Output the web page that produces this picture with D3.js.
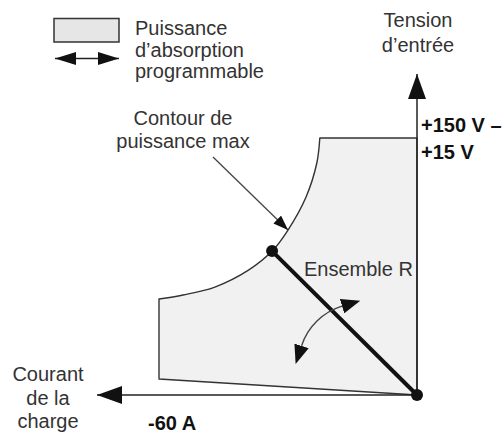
<!DOCTYPE html>
<html>
<head>
<meta charset="utf-8">
<script src="https://cdn.jsdelivr.net/npm/d3@7"></script>
<style>
  body { margin: 0; background: #fff; }
  text { font-family: "Liberation Sans", Arial, sans-serif; }
</style>
</head>
<body>
<div id="chart"></div>
<script>
// Data (current in A, voltage in V)
var topCurrent = 0, topVoltage = 150;
var contourCurrent = [-22.6, -23.3, -25.8, -30.0, -33.7, -39.1, -47.0, -54.4, -60];
var contourVoltage = [150, 135.4, 115.6, 96.3, 84.0, 73.0, 63.0, 58.4, 56.0];
var floorCurrent = [-60, 0];
var floorVoltage = [9.3, 0];
var setRCurrent = [-33.7, 0];
var setRVoltage = [84.0, 0];

var legendLines = ["Puissance", "d\u2019absorption", "programmable"];
var voltageAxisLines = ["Tension", "d\u2019entr\u00e9e"];
var currentAxisLines = ["Courant", "de la", "charge"];
var voltageTickLabels = ["+150 V \u2013", "+15 V"];
var currentTickLabels = ["-60 A"];
var contourLabelLines = ["Contour de", "puissance max"];
var setRLabel = "Ensemble R";

var width = 503, height = 434;

var svg = d3.select("#chart")
            .append("svg")
            .attr("width", width)
            .attr("height", height)
            .style("display", "block");

// Scales
var x = d3.scaleLinear().domain([-60, 0]).range([159, 417]);
var y = d3.scaleLinear().domain([0, 150]).range([395, 138]);

// Markers
var defs = svg.append("defs");
function marker(id, len, wid, refX) {
    defs.append("marker")
        .attr("id", id)
        .attr("markerUnits", "userSpaceOnUse")
        .attr("markerWidth", len)
        .attr("markerHeight", wid)
        .attr("viewBox", "0 0 " + len + " " + wid)
        .attr("refX", refX)
        .attr("refY", wid / 2)
        .attr("orient", "auto-start-reverse")
        .append("path")
        .attr("d", "M0,0L" + len + "," + (wid / 2) + "L0," + wid + "Z")
        .attr("fill", "#111");
}
marker("axisHead", 25, 18, 25);
marker("legendHead", 21, 13, 21);
marker("pointHead", 15, 11, 15);
marker("arcHead", 19, 15, 0);

// Region of programmable absorption power
var contourPts = contourCurrent.map(function(c, i) { return [x(c), y(contourVoltage[i])]; });
var contourPath = d3.line().curve(d3.curveCatmullRom.alpha(0.5))(contourPts);
var regionD = "M" + x(0) + "," + y(0) +
              "L" + x(topCurrent) + "," + y(topVoltage) +
              "L" + contourPath.slice(1) +
              floorCurrent.map(function(c, i) { return "L" + x(c) + "," + y(floorVoltage[i]); }).join("") +
              "Z";

svg.append("path")
   .attr("d", regionD)
   .attr("fill", "#f1f1f1")
   .attr("stroke", "#333")
   .attr("stroke-width", 1.4)
   .attr("stroke-linejoin", "round");

// Axes
svg.append("line")
   .attr("x1", x(0)).attr("y1", y(0))
   .attr("x2", x(0)).attr("y2", 74)
   .attr("stroke", "#222").attr("stroke-width", 1.5)
   .attr("marker-end", "url(#axisHead)");

svg.append("line")
   .attr("x1", x(0)).attr("y1", y(0))
   .attr("x2", 97).attr("y2", y(0))
   .attr("stroke", "#222").attr("stroke-width", 1.5)
   .attr("marker-end", "url(#axisHead)");

// Set R line
svg.append("line")
   .attr("x1", x(setRCurrent[0])).attr("y1", y(setRVoltage[0]))
   .attr("x2", x(setRCurrent[1])).attr("y2", y(setRVoltage[1]))
   .attr("stroke", "#111").attr("stroke-width", 4);

svg.selectAll(".dot")
   .data(setRCurrent)
   .enter().append("circle")
   .attr("class", "dot")
   .attr("cx", function(d) { return x(d); })
   .attr("cy", function(d, i) { return y(setRVoltage[i]); })
   .attr("r", 6)
   .attr("fill", "#111");

// Rotation arc arrow
var arc = d3.path();
var a0 = Math.atan2(-59, -18), a1 = Math.atan2(-19, -58);
arc.arc(360, 365, 61.5, a0, a1, true);
svg.append("path")
   .attr("d", arc.toString())
   .attr("fill", "none")
   .attr("stroke", "#444")
   .attr("stroke-width", 1.4)
   .attr("marker-start", "url(#arcHead)")
   .attr("marker-end", "url(#arcHead)");

// Pointer to power contour
svg.append("line")
   .attr("x1", 213).attr("y1", 157)
   .attr("x2", 288).attr("y2", 230)
   .attr("stroke", "#444").attr("stroke-width", 1.3)
   .attr("marker-end", "url(#pointHead)");

// Legend
svg.append("rect")
   .attr("x", 54).attr("y", 18.5)
   .attr("width", 65).attr("height", 23.5)
   .attr("fill", "#e6e6e6")
   .attr("stroke", "#333")
   .attr("stroke-width", 1.5);

svg.append("line")
   .attr("x1", 55).attr("y1", 58.5)
   .attr("x2", 119).attr("y2", 58.5)
   .attr("stroke", "#222").attr("stroke-width", 1.5)
   .attr("marker-start", "url(#legendHead)")
   .attr("marker-end", "url(#legendHead)");

// Text
function lines(arr, px, py, step, anchor, weight, color) {
    svg.append("g").selectAll("text")
       .data(arr)
       .enter().append("text")
       .attr("x", px)
       .attr("y", function(d, i) { return py + i * step; })
       .attr("text-anchor", anchor)
       .attr("font-size", 20)
       .attr("font-weight", weight)
       .attr("fill", color)
       .text(function(d) { return d; });
}

lines(legendLines, 135, 35, 21.5, "start", "normal", "#333");
lines(voltageAxisLines, 418, 27, 24.5, "middle", "normal", "#333");
lines(voltageTickLabels, 421, 132, 27, "start", "bold", "#111");
lines(contourLabelLines, 183, 125, 23, "middle", "normal", "#333");
lines([setRLabel], 304, 276, 0, "start", "normal", "#333");
lines(currentAxisLines, 48, 381, 23.5, "middle", "normal", "#333");
lines(currentTickLabels, 148, 430, 0, "start", "bold", "#111");
</script>
</body>
</html>
